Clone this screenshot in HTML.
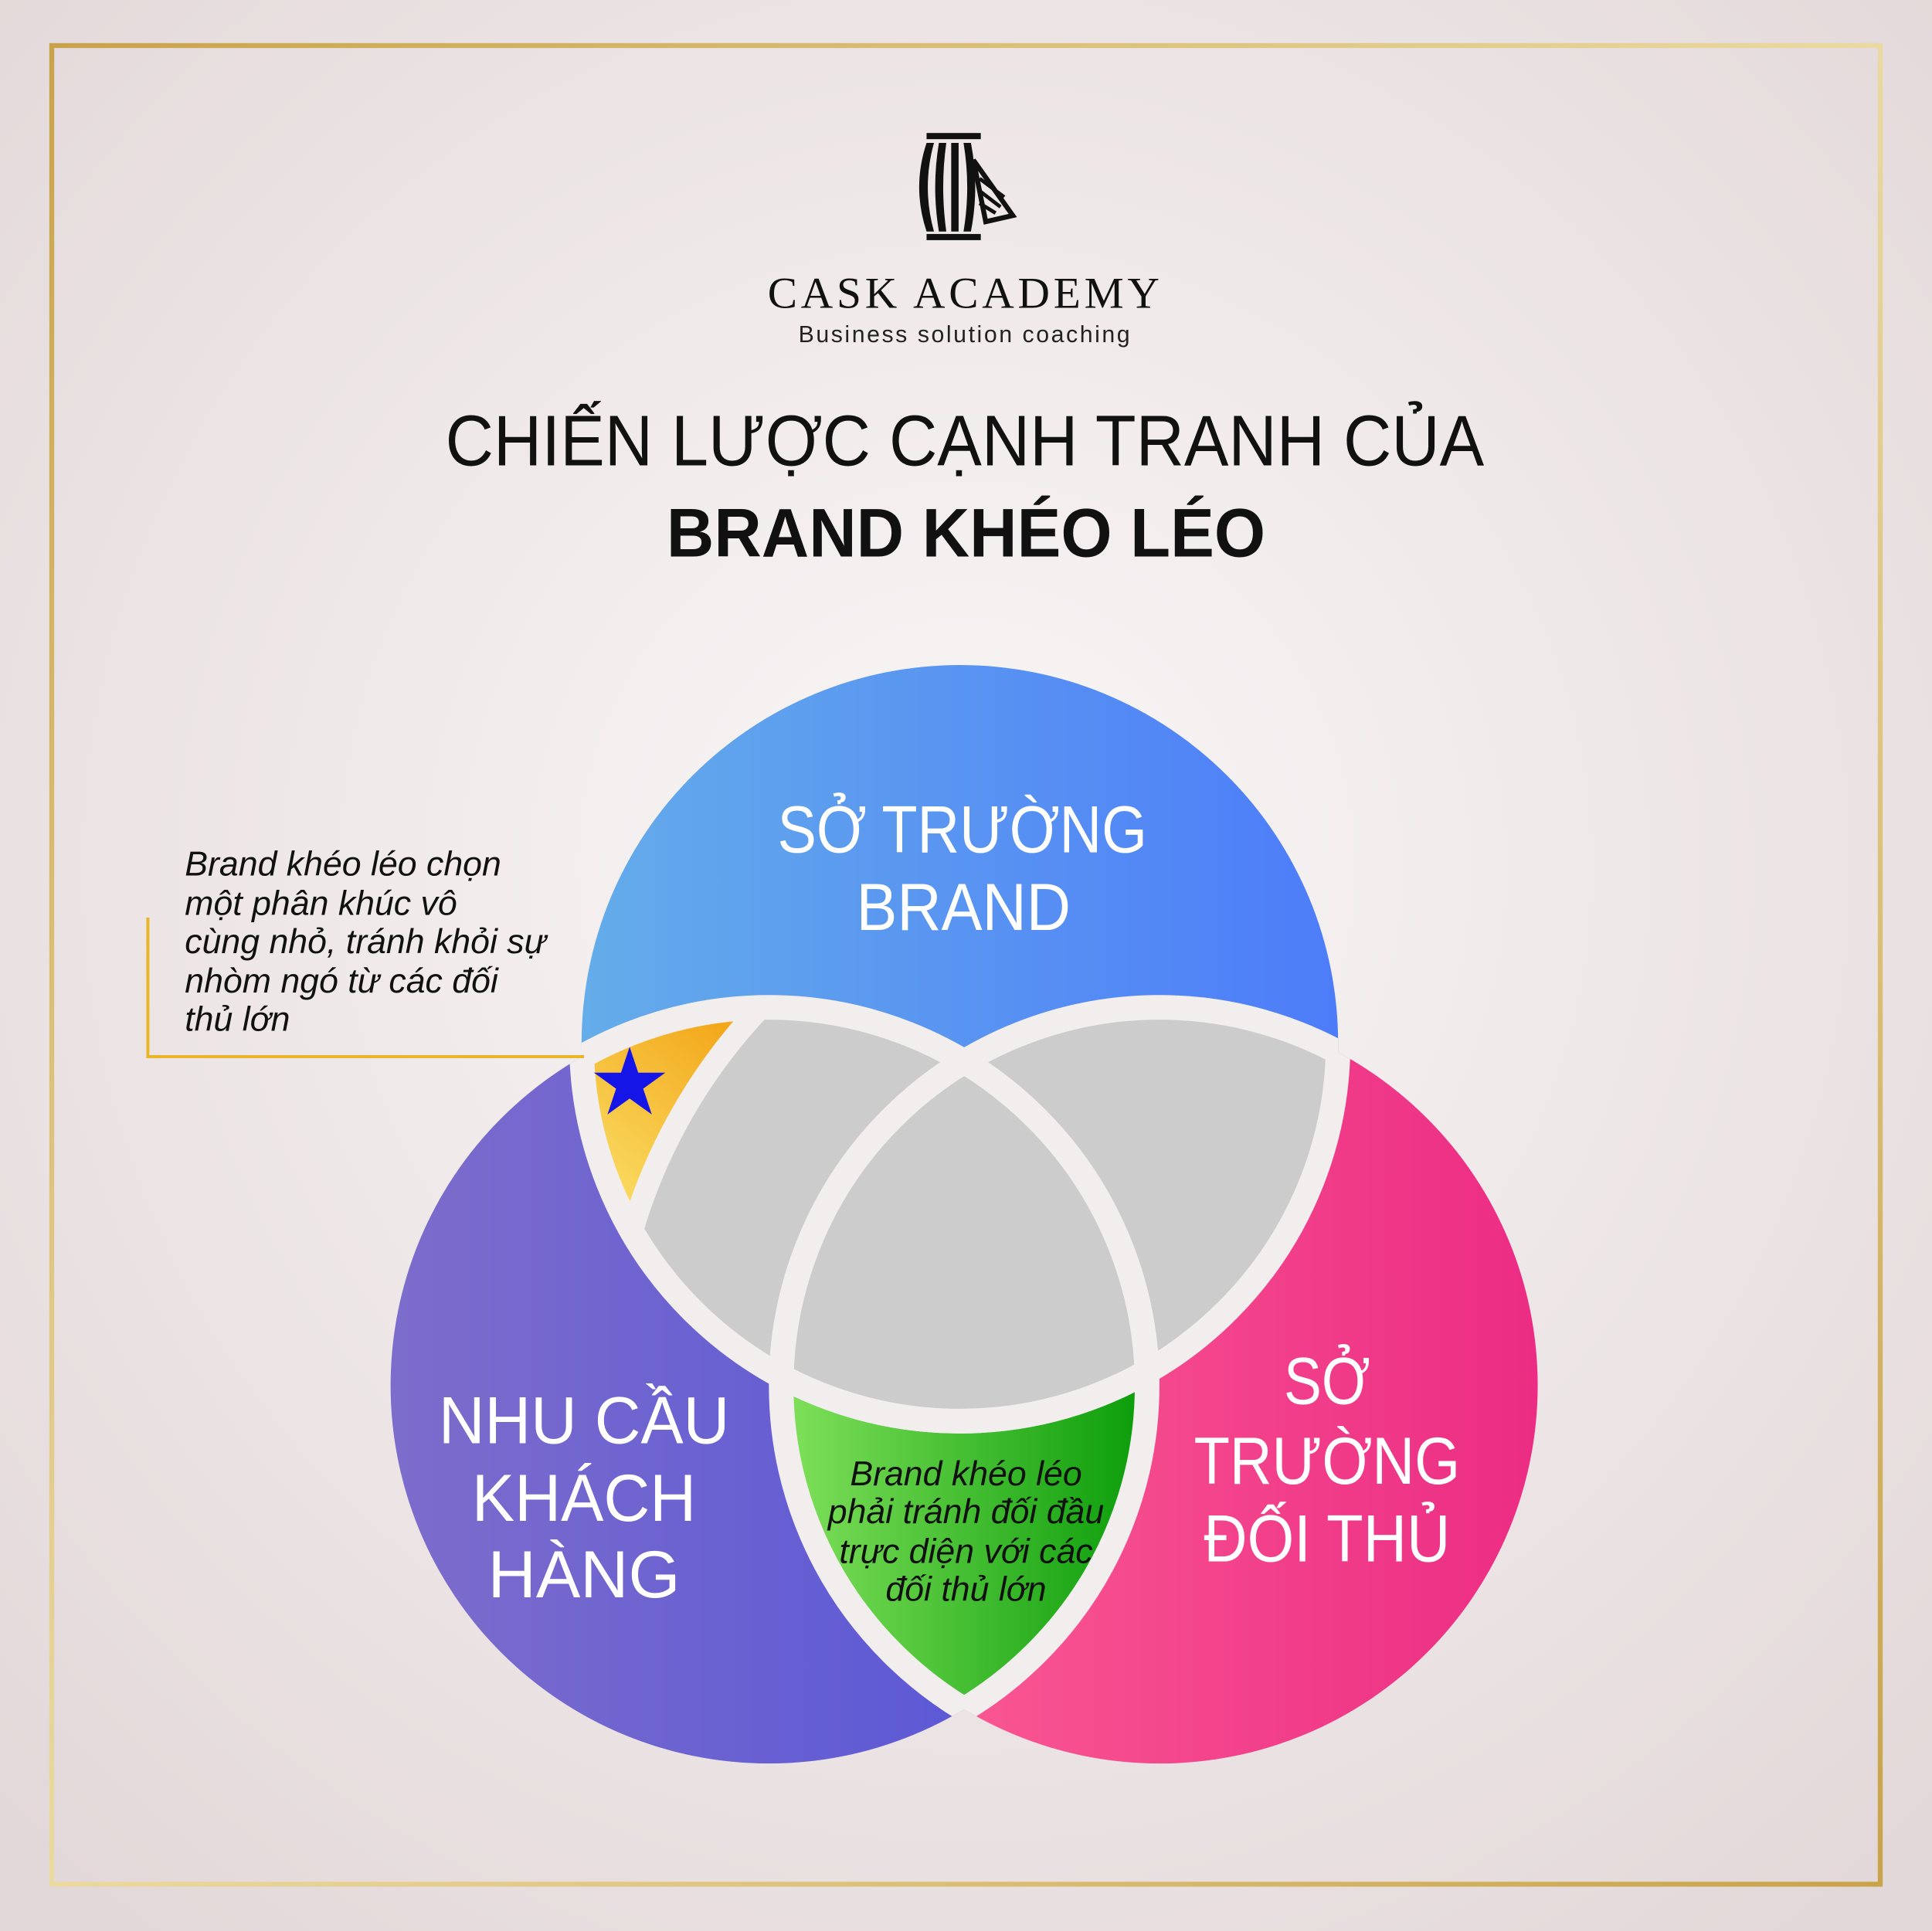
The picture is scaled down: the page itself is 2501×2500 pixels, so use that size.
<!DOCTYPE html>
<html><head><meta charset="utf-8"><style>
html,body{margin:0;padding:0;}
svg{display:block;}
text{font-family:"Liberation Sans","DejaVu Sans",sans-serif;}
</style></head><body>
<svg width="2501" height="2500" viewBox="0 0 1568 1568" preserveAspectRatio="none" xmlns="http://www.w3.org/2000/svg">
<defs>
<radialGradient id="bg" cx="50%" cy="45%" r="70%">
<stop offset="0" stop-color="#faf7f7"/><stop offset="1" stop-color="#e3d8d9"/></radialGradient>
<linearGradient id="gold" x1="0" y1="0" x2="1" y2="1">
<stop offset="0" stop-color="#c9a34a"/><stop offset="0.5" stop-color="#ead9a0"/><stop offset="1" stop-color="#c9a34a"/></linearGradient>
<linearGradient id="gT" x1="0" x2="1"><stop offset="0" stop-color="#64acea"/><stop offset="1" stop-color="#4d7cf9"/></linearGradient>
<linearGradient id="gL" x1="0" x2="1"><stop offset="0" stop-color="#7d6ccb"/><stop offset="1" stop-color="#5253da"/></linearGradient>
<linearGradient id="gR" x1="0" x2="1"><stop offset="0" stop-color="#fd6496"/><stop offset="1" stop-color="#ec2c84"/></linearGradient>
<linearGradient id="gG" x1="640" y1="0" x2="930" y2="0" gradientUnits="userSpaceOnUse"><stop offset="0" stop-color="#7fe05a"/><stop offset="1" stop-color="#0a9c0a"/></linearGradient>
<linearGradient id="gY" x1="470" y1="990" x2="610" y2="820" gradientUnits="userSpaceOnUse"><stop offset="0" stop-color="#fbe46e"/><stop offset="1" stop-color="#f2a010"/></linearGradient>
<clipPath id="cT"><circle cx="779" cy="847" r="307"/></clipPath>
<clipPath id="cL"><circle cx="624" cy="1125" r="307"/></clipPath>
<clipPath id="cR"><circle cx="941" cy="1125" r="307"/></clipPath>
<mask id="mY"><rect width="1568" height="1568" fill="white"/><circle cx="941" cy="1125" r="446" fill="black"/></mask>
</defs>
<rect width="1568" height="1568" fill="url(#bg)"/>
<rect x="42" y="37" width="1484" height="1493" fill="none" stroke="url(#gold)" stroke-width="4"/>

<!-- logo -->
<g fill="#111">
<rect x="752" y="108" width="44" height="5"/>
<rect x="752" y="190" width="44" height="5"/>
<path d="M752,116 Q740,152 752,188 L758,188 Q748,152 758,116Z"/>
<path d="M762,116 Q756,152 762,188 L768,188 Q763,152 768,116Z"/>
<path d="M772,116 L772,188 L778,188 L778,116Z"/>
<path d="M782,116 Q788,152 782,188 L788,188 Q795,152 788,116Z"/>
<path d="M790,130 L822,175 L800,180 Z" fill="none" stroke="#111" stroke-width="4"/>
<path d="M795,145 L815,160 M795,155 L812,168 M795,165 L808,173" stroke="#111" stroke-width="3"/>
</g>
<text x="783" y="250" text-anchor="middle" style="font-family:'Liberation Serif',serif" font-size="36" letter-spacing="2" fill="#111" textLength="320">CASK ACADEMY</text>
<text x="783" y="278" text-anchor="middle" font-size="19" fill="#222" letter-spacing="1" textLength="270">Business solution coaching</text>

<text x="783" y="378" text-anchor="middle" font-size="58" fill="#111" textLength="843" lengthAdjust="spacingAndGlyphs">CHIẾN LƯỢC CẠNH TRANH CỦA</text>
<text x="784" y="452" text-anchor="middle" font-size="56" font-weight="bold" fill="#111" textLength="486" lengthAdjust="spacingAndGlyphs">BRAND KHÉO LÉO</text>

<!-- circles -->
<circle cx="779" cy="847" r="307" fill="url(#gT)"/>
<circle cx="624" cy="1125" r="307" fill="url(#gL)"/>
<circle cx="941" cy="1125" r="307" fill="url(#gR)"/>
<g clip-path="url(#cT)"><circle cx="624" cy="1125" r="307" fill="#cccccc"/><circle cx="941" cy="1125" r="307" fill="#cccccc"/></g>
<g clip-path="url(#cL)"><circle cx="941" cy="1125" r="307" fill="url(#gG)"/></g>
<g clip-path="url(#cT)"><g clip-path="url(#cL)"><circle cx="941" cy="1125" r="307" fill="#cccccc"/><rect x="300" y="500" width="700" height="700" fill="url(#gY)" mask="url(#mY)"/></g></g>
<g clip-path="url(#cT)"><g clip-path="url(#cL)"><circle cx="941" cy="1125" r="446" fill="none" stroke="#f3eeee" stroke-width="18"/></g></g>
<g fill="none" stroke="#f3eeee" stroke-width="20">
<g clip-path="url(#cT)"><circle cx="624" cy="1125" r="307"/><circle cx="941" cy="1125" r="307"/></g>
<g clip-path="url(#cL)"><circle cx="779" cy="847" r="307"/><circle cx="941" cy="1125" r="307"/></g>
<g clip-path="url(#cR)"><circle cx="779" cy="847" r="307"/><circle cx="624" cy="1125" r="307"/></g>
</g>
<polygon points="511,850 518,871 540,871 522,884 529,905 511,892 493,905 500,884 482,871 504,871" fill="#1515e8"/>

<!-- labels -->
<g fill="#fff" font-size="54" text-anchor="middle">
<text x="781" y="692" textLength="300" lengthAdjust="spacingAndGlyphs">SỞ TRƯỜNG</text>
<text x="782" y="755" textLength="174" lengthAdjust="spacingAndGlyphs">BRAND</text>
<text x="474" y="1172" textLength="236" lengthAdjust="spacingAndGlyphs">NHU CẦU</text>
<text x="474" y="1235" textLength="182" lengthAdjust="spacingAndGlyphs">KHÁCH</text>
<text x="474" y="1297" textLength="156" lengthAdjust="spacingAndGlyphs">HÀNG</text>
<text x="1077" y="1140" textLength="70" lengthAdjust="spacingAndGlyphs">SỞ</text>
<text x="1077" y="1205" textLength="216" lengthAdjust="spacingAndGlyphs">TRƯỜNG</text>
<text x="1077" y="1268" textLength="200" lengthAdjust="spacingAndGlyphs">ĐỐI THỦ</text>
</g>
<g fill="#111" font-size="28" font-style="italic" text-anchor="middle">
<text x="784" y="1206">Brand khéo léo</text>
<text x="784" y="1237">phải tránh đối đầu</text>
<text x="784" y="1269">trực diện với các</text>
<text x="784" y="1300">đối thủ lớn</text>
</g>
<g fill="#111" font-size="28" font-style="italic">
<text x="150" y="711">Brand khéo léo chọn</text>
<text x="150" y="743">một phân khúc vô</text>
<text x="150" y="774">cùng nhỏ, tránh khỏi sự</text>
<text x="150" y="806">nhòm ngó từ các đối</text>
<text x="150" y="837">thủ lớn</text>
</g>
<path d="M120,745 L120,858 L474,858" fill="none" stroke="#e9b62a" stroke-width="2.5"/>
</svg>
</body></html>
